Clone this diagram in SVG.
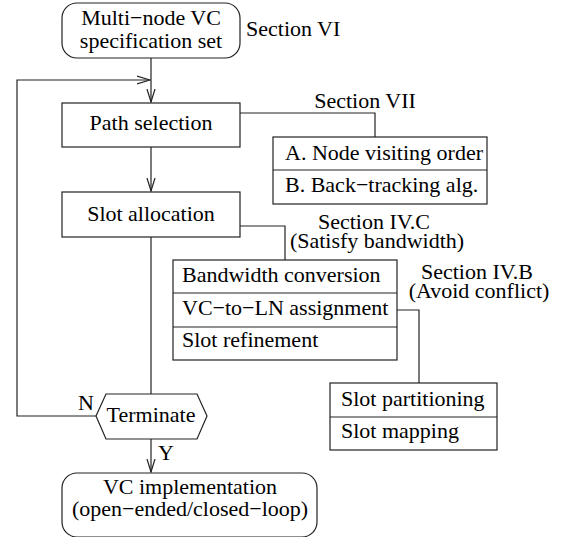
<svg xmlns="http://www.w3.org/2000/svg" width="569" height="537" viewBox="0 0 569 537">
<style>
.b{fill:#fff;stroke:#222;stroke-width:1.2}
.l{fill:none;stroke:#222;stroke-width:1.2}
.m{text-anchor:middle}
</style>
<defs>
<marker id="ar" viewBox="0 0 14 10" refX="13" refY="5" markerWidth="14" markerHeight="10" markerUnits="userSpaceOnUse" orient="auto">
<path d="M0,1 L13,5 L0,9" fill="none" stroke="#222" stroke-width="1.2"/>
</marker>
</defs>
<rect width="569" height="537" fill="#fff"/>
<g id="connectors">
<line class="l" x1="151" y1="58" x2="151" y2="102" marker-end="url(#ar)"/>
<polyline class="l" points="96,416 17,416 17,80 150,80" marker-end="url(#ar)"/>
<line class="l" x1="151" y1="147" x2="151" y2="191" marker-end="url(#ar)"/>
<line class="l" x1="151" y1="237" x2="151" y2="394"/>
<line class="l" x1="151" y1="439" x2="151" y2="472" marker-end="url(#ar)"/>
<polyline class="l" points="240,113 375,113 375,137"/>
<polyline class="l" points="240,226 285,226 285,260"/>
<polyline class="l" points="397,310 419,310 419,383"/>
</g>
<g font-family="'Liberation Serif', 'Times New Roman', serif" font-size="22" fill="#000">
<g id="spec">
<rect class="b" x="62" y="3" width="178" height="55" rx="15"/>
<text class="m" x="151" y="25">Multi−node VC</text>
<text class="m" x="151" y="48">specification set</text>
</g>
<text id="secVI" x="246" y="36">Section VI</text>
<g id="path">
<rect class="b" x="62" y="103" width="178" height="44"/>
<text class="m" x="151" y="130">Path selection</text>
</g>
<g id="secVII">
<text class="m" x="365" y="108">Section VII</text>
<rect class="b" x="273" y="137" width="214" height="67"/>
<line class="l" x1="273" y1="170" x2="487" y2="170"/>
<text x="285" y="160">A. Node visiting order</text>
<text x="285" y="192">B. Back−tracking alg.</text>
</g>
<g id="slot">
<rect class="b" x="62" y="192" width="178" height="45"/>
<text class="m" x="151" y="221">Slot allocation</text>
</g>
<g id="secIVC">
<text class="m" x="374" y="229">Section IV.C</text>
<text class="m" x="377" y="248">(Satisfy bandwidth)</text>
<rect class="b" x="173" y="260" width="224" height="100"/>
<line class="l" x1="173" y1="293" x2="397" y2="293"/>
<line class="l" x1="173" y1="327" x2="397" y2="327"/>
<text x="182" y="282">Bandwidth conversion</text>
<text x="182" y="315">VC−to−LN assignment</text>
<text x="182" y="347">Slot refinement</text>
</g>
<g id="secIVB">
<text class="m" x="477" y="279">Section IV.B</text>
<text class="m" x="479" y="298">(Avoid conflict)</text>
<rect class="b" x="330" y="383" width="167" height="67"/>
<line class="l" x1="330" y1="417" x2="497" y2="417"/>
<text x="341" y="406">Slot partitioning</text>
<text x="341" y="438">Slot mapping</text>
</g>
<g id="terminate">
<polygon class="b" points="96,416 106,394 197,394 207,416 197,439 106,439"/>
<text class="m" x="151" y="422">Terminate</text>
<text x="78" y="410">N</text>
<text x="158" y="460">Y</text>
</g>
<g id="impl">
<rect class="b" x="62" y="473" width="255" height="64" rx="15"/>
<text class="m" x="190" y="494">VC implementation</text>
<text class="m" x="190" y="516">(open−ended/closed−loop)</text>
</g>
</g>
</svg>
